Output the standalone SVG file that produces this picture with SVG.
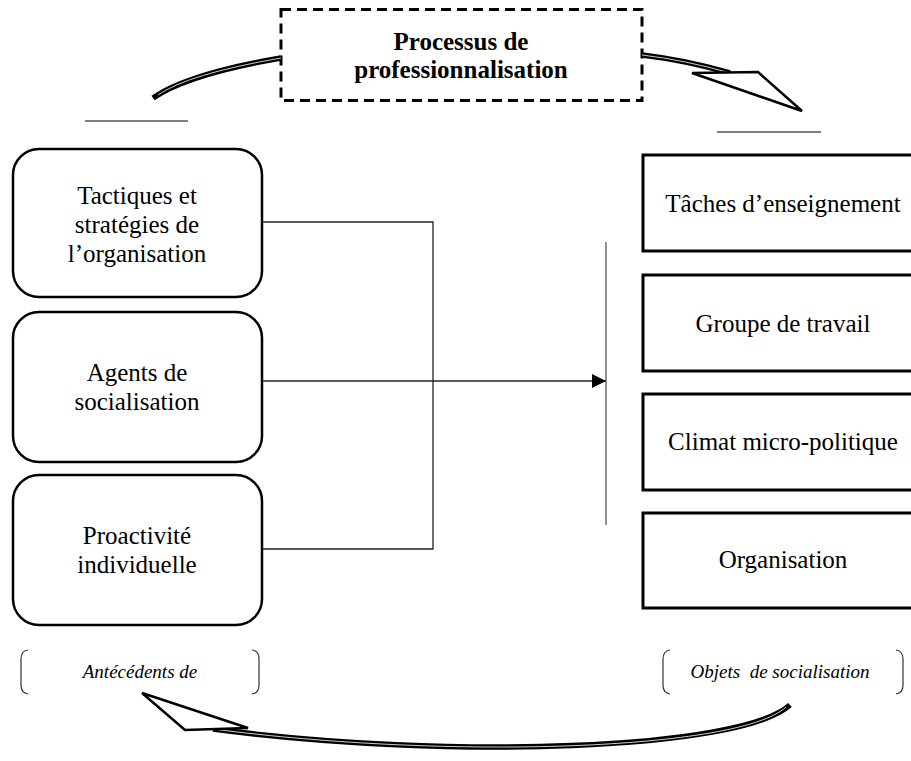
<svg xmlns="http://www.w3.org/2000/svg" width="911" height="761" viewBox="0 0 911 761">
<defs>
<style>
.t{font-family:"Liberation Serif","Times New Roman",serif;font-size:25px;fill:#000;text-anchor:middle}
.b{font-weight:bold}
.i{font-style:italic;font-size:19px}
.rb{fill:#fff;stroke:#000;stroke-width:2.5}
.sq{fill:#fff;stroke:#000;stroke-width:3}
.ln{fill:none;stroke:#222;stroke-width:1.3}
.thin{fill:none;stroke:#555;stroke-width:1.3}
.br{fill:none;stroke:#333;stroke-width:1.2}
.arcO{fill:none;stroke:#000;stroke-width:5.5;stroke-linecap:butt}
.arcI{fill:none;stroke:#fff;stroke-width:0.8}
.head{fill:#fff;stroke:#000;stroke-width:2.5;stroke-linejoin:miter}
</style>
<marker id="ah" viewBox="0 0 14 14" refX="14" refY="7" markerWidth="14" markerHeight="14" markerUnits="userSpaceOnUse" orient="auto">
<path d="M0,0 L14,7 L0,14 Z" fill="#000"/>
</marker>
</defs>
<rect width="911" height="761" fill="#fff"/>

<g id="process">
<rect x="281" y="9.5" width="361" height="91" fill="#fff" stroke="#000" stroke-width="3" stroke-dasharray="10,6"/>
<text class="t b" x="461" y="50">Processus de</text>
<text class="t b" x="461" y="78">professionnalisation</text>
</g>

<g id="cycle-arrows">
<path class="arcO" d="M153,98 Q188,74 281,58"/>
<path class="arcI" d="M158,95 Q188,74 281,58"/>
<path class="arcO" d="M642,55 Q685,60 730,73" stroke-width="5"/>
<path class="arcI" d="M642,55 Q685,60 730,73"/>
<polygon class="head" points="692,73 758,72 802,111"/>
<path class="arcO" d="M790,705 C740,750 450,760 213,729"/>
<path class="arcI" d="M786,707 C740,750 450,760 213,729"/>
<polygon class="head" points="142,693 248,728 185,730"/>
<line class="thin" x1="85" y1="121" x2="188" y2="121"/>
<line class="thin" x1="717" y1="132" x2="821" y2="132"/>
</g>

<g id="tactiques">
<rect class="rb" x="13" y="149" width="249" height="148" rx="26"/>
<text class="t" x="137" y="204">Tactiques et</text>
<text class="t" x="137" y="233">stratégies de</text>
<text class="t" x="137" y="262">l’organisation</text>
</g>
<g id="agents">
<rect class="rb" x="13" y="312" width="249" height="150" rx="26"/>
<text class="t" x="137" y="381">Agents de</text>
<text class="t" x="137" y="410">socialisation</text>
</g>
<g id="proactivite">
<rect class="rb" x="13" y="475" width="249" height="150" rx="26"/>
<text class="t" x="137" y="544">Proactivité</text>
<text class="t" x="137" y="573">individuelle</text>
</g>

<g id="taches">
<rect class="sq" x="643" y="155" width="280" height="96"/>
<text class="t" x="783" y="212">Tâches d’enseignement</text>
</g>
<g id="groupe">
<rect class="sq" x="643" y="275" width="280" height="96"/>
<text class="t" x="783" y="332">Groupe de travail</text>
</g>
<g id="climat">
<rect class="sq" x="643" y="394" width="280" height="96"/>
<text class="t" x="783" y="450">Climat micro-politique</text>
</g>
<g id="organisation">
<rect class="sq" x="643" y="513" width="280" height="95"/>
<text class="t" x="783" y="568">Organisation</text>
</g>

<g id="antecedents">
<path class="br" d="M28,650 Q21,651 21,659 L21,685 Q21,693 28,694"/>
<path class="br" d="M252,650 Q259,651 259,659 L259,685 Q259,693 252,694"/>
<text class="t i" x="140" y="678">Antécédents de</text>
</g>
<g id="objets">
<path class="br" d="M670,650 Q663,651 663,659 L663,685 Q663,693 670,694"/>
<path class="br" d="M896,650 Q903,651 903,659 L903,685 Q903,693 896,694"/>
<text class="t i" x="780" y="678" xml:space="preserve">Objets  de socialisation</text>
</g>

<g id="connectors">
<polyline class="ln" points="262,222 433,222 433,549 262,549"/>
<line class="ln" x1="262" y1="381" x2="606" y2="381" marker-end="url(#ah)"/>
<line class="thin" x1="606" y1="242" x2="606" y2="525"/>
</g>
</svg>
